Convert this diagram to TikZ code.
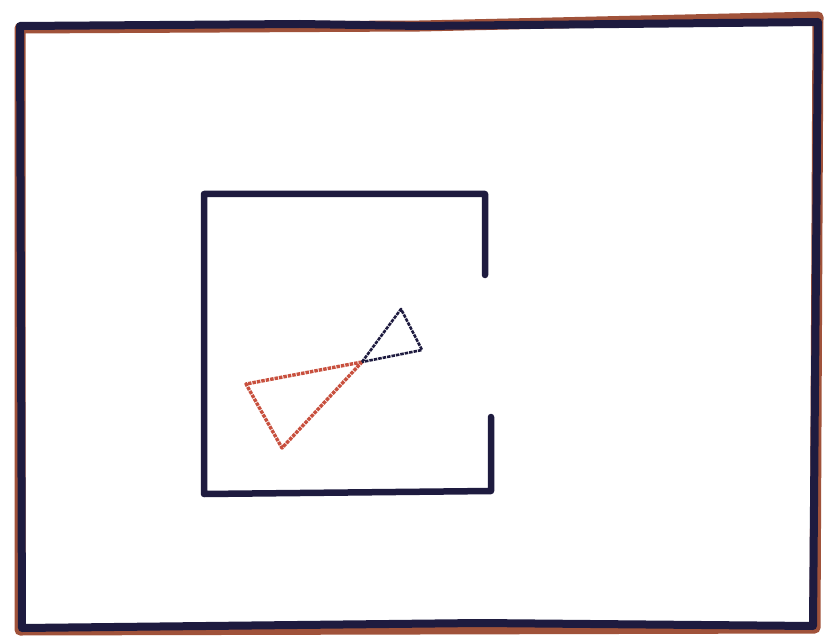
\documentclass[tikz,border=0pt]{standalone}
\definecolor{ink}{HTML}{1E1B3F}
\definecolor{rust}{HTML}{A0523A}
\definecolor{redink}{HTML}{C8503E}
\tikzset{
  outer/.style={line width=11pt, line join=round, line cap=round},
  inner/.style={draw=ink, line width=6.5pt, line cap=round, line join=round},
  dotted line/.style={line width=3.4pt, dash pattern=on 3.5pt off 1pt, line join=round}
}
\begin{document}
\begin{tikzpicture}[x=1pt,y=-1pt]
\useasboundingbox[fill=white] (0,0) rectangle (832,639);
% outer frame: brown under-stroke then navy
\draw[outer, draw=rust] (20,28) -- (420,26) -- (818,17) -- (815,628) -- (20,630) -- cycle;
\draw[outer, draw=ink, line width=8pt] (20,26) -- (300,24) -- (420,26) -- (818,22) -- (813,626) -- (480,623) -- (22,628) -- cycle;
% inner open square
\draw[inner] (485,275) -- (485,194) -- (204,194) -- (204,494) -- (491,491) -- (491,417);
% bow-tie
\draw[dotted line, draw=redink] (362,362) -- (246,384) -- (282,448) -- cycle;
\draw[dotted line, draw=ink, line width=2.6pt] (362,362) -- (401,309) -- (422,350) -- cycle;
\end{tikzpicture}
\end{document}
